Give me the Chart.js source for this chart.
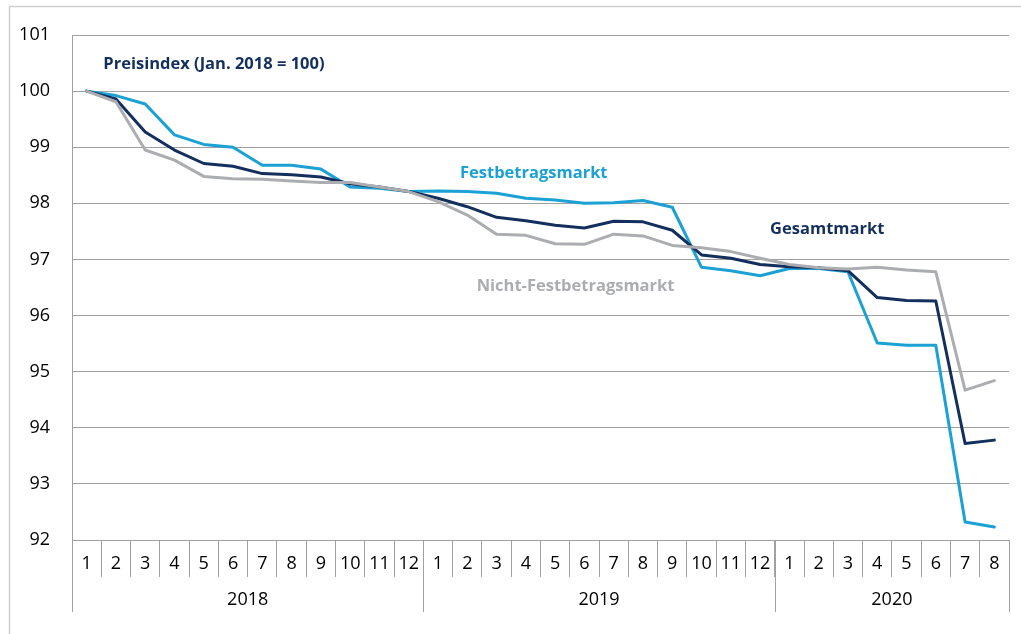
<!DOCTYPE html>
<html>
<head>
<meta charset="utf-8">
<script src="https://cdn.jsdelivr.net/npm/chart.js@4/dist/chart.umd.min.js"></script>
<style>
html,body{margin:0;padding:0;background:#fff;}
canvas{display:block;}
</style>
</head>
<body>
<canvas id="c" width="1021" height="634"></canvas>
<script>
// ---- data ----
const months = ['1','2','3','4','5','6','7','8','9','10','11','12',
                '1','2','3','4','5','6','7','8','9','10','11','12',
                '1','2','3','4','5','6','7','8'];
const years = ['2018','2019','2020'];
const yearCounts = [12,12,8];

const festbetrag = [100, 99.92, 99.77, 99.22, 99.05, 99.00, 98.68, 98.68, 98.61, 98.29, 98.27, 98.21,
                    98.22, 98.21, 98.18, 98.09, 98.06, 98.00, 98.01, 98.05, 97.93, 96.86, 96.80, 96.71,
                    96.84, 96.84, 96.78, 95.51, 95.47, 95.47, 92.32, 92.23];
const gesamt = [100, 99.86, 99.27, 98.95, 98.71, 98.66, 98.53, 98.51, 98.47, 98.35, 98.29, 98.21,
                98.09, 97.94, 97.75, 97.69, 97.61, 97.56, 97.68, 97.67, 97.52, 97.08, 97.02, 96.91,
                96.87, 96.85, 96.80, 96.32, 96.27, 96.26, 93.72, 93.78];
const nichtFest = [100, 99.81, 98.95, 98.77, 98.48, 98.44, 98.43, 98.40, 98.37, 98.37, 98.29, 98.21,
                   98.03, 97.79, 97.45, 97.43, 97.28, 97.27, 97.45, 97.42, 97.25, 97.21, 97.14, 97.02,
                   96.91, 96.85, 96.83, 96.86, 96.81, 96.78, 94.67, 94.84];
const seriesNames = ['Festbetragsmarkt','Gesamtmarkt','Nicht-Festbetragsmarkt'];
const titleText = 'Preisindex (Jan. 2018 = 100)';

const BLUE = '#1ba1d3', NAVY = '#132f5d', GREY = '#abadb0';
const AXIS_GREY = '#a0a0a0';
const TICK_FONT = {family:'Open Sans', size:18};

const decor = {
  id:'decor',
  beforeDraw(chart){
    const ctx = chart.ctx;
    ctx.save();
    ctx.fillStyle = '#fff';
    ctx.fillRect(0,0,chart.width,chart.height);
    ctx.strokeStyle = '#cfcfcf';
    ctx.lineWidth = 1.5;
    ctx.beginPath();
    ctx.moveTo(9.5, chart.height);
    ctx.lineTo(9.5, 6.5);
    ctx.lineTo(chart.width, 6.5);
    ctx.stroke();
    ctx.restore();
  },
  afterDraw(chart){
    const ctx = chart.ctx;
    const xs = chart.scales.x, ys = chart.scales.y;
    const n = months.length;
    const w = (xs.right - xs.left) / n;
    const top = chart.chartArea.bottom;
    ctx.save();
    // year separators + labels
    ctx.strokeStyle = AXIS_GREY;
    ctx.lineWidth = 1;
    let start = 0;
    const bounds = [0];
    yearCounts.forEach(c => { start += c; bounds.push(start); });
    bounds.forEach(b => {
      const px = Math.round(xs.left + b*w) + 0.5;
      ctx.beginPath(); ctx.moveTo(px, top); ctx.lineTo(px, top + 72); ctx.stroke();
    });
    ctx.fillStyle = '#000';
    ctx.font = `${TICK_FONT.size}px "${TICK_FONT.family}"`;
    ctx.textAlign = 'center';
    ctx.textBaseline = 'middle';
    years.forEach((y, k) => {
      const cx = xs.left + (bounds[k] + bounds[k+1]) / 2 * w;
      ctx.fillText(y, cx, top + 60);
    });
    // annotations (anchored in data coordinates)
    const ann = [
      {t:titleText, c:NAVY, xi:0.57, yv:100.48},
      {t:seriesNames[0], c:BLUE, xi:12.75, yv:98.53},
      {t:seriesNames[1], c:NAVY, xi:23.34, yv:97.53},
      {t:seriesNames[2], c:GREY, xi:13.32, yv:96.53}
    ];
    ctx.textAlign = 'left';
    ctx.font = 'bold 16.5px "Open Sans"';
    ann.forEach(a => {
      ctx.fillStyle = a.c;
      ctx.fillText(a.t, xs.getPixelForValue(a.xi), ys.getPixelForValue(a.yv));
    });
    ctx.restore();
  }
};

const ds = (label, data, color) => ({
  label, data, borderColor: color, backgroundColor: color,
  borderWidth: 3, pointRadius: 0, tension: 0, fill: false,
  borderJoinStyle: 'round', borderCapStyle: 'round'
});

new Chart(document.getElementById('c'), {
  type: 'line',
  data: {
    labels: months,
    datasets: [
      ds(seriesNames[2], nichtFest, GREY),
      ds(seriesNames[1], gesamt, NAVY),
      ds(seriesNames[0], festbetrag, BLUE)
    ]
  },
  options: {
    responsive: false,
    devicePixelRatio: 1,
    animation: false,
    layout: {padding: {top: 35, right: 12, left: 0, bottom: 0}},
    plugins: {legend: {display: false}, tooltip: {enabled: false}},
    scales: {
      x: {
        type: 'category',
        offset: true,
        grid: {offset: true, drawOnChartArea: false, drawTicks: true, tickLength: 37, color: AXIS_GREY, lineWidth: 1},
        border: {display: false},
        ticks: {autoSkip: false, maxRotation: 0, minRotation: 0, padding: -24, color: '#000', font: TICK_FONT},
        afterFit(s){ s.height = 94; }
      },
      y: {
        min: 92, max: 101,
        grid: {color: AXIS_GREY, lineWidth: 1, drawTicks: false},
        border: {display: true, color: AXIS_GREY, width: 1},
        ticks: {stepSize: 1, padding: 22, color: '#000', font: TICK_FONT},
        afterFit(s){ s.width = 72; }
      }
    }
  },
  plugins: [decor]
});
</script>
</body>
</html>
